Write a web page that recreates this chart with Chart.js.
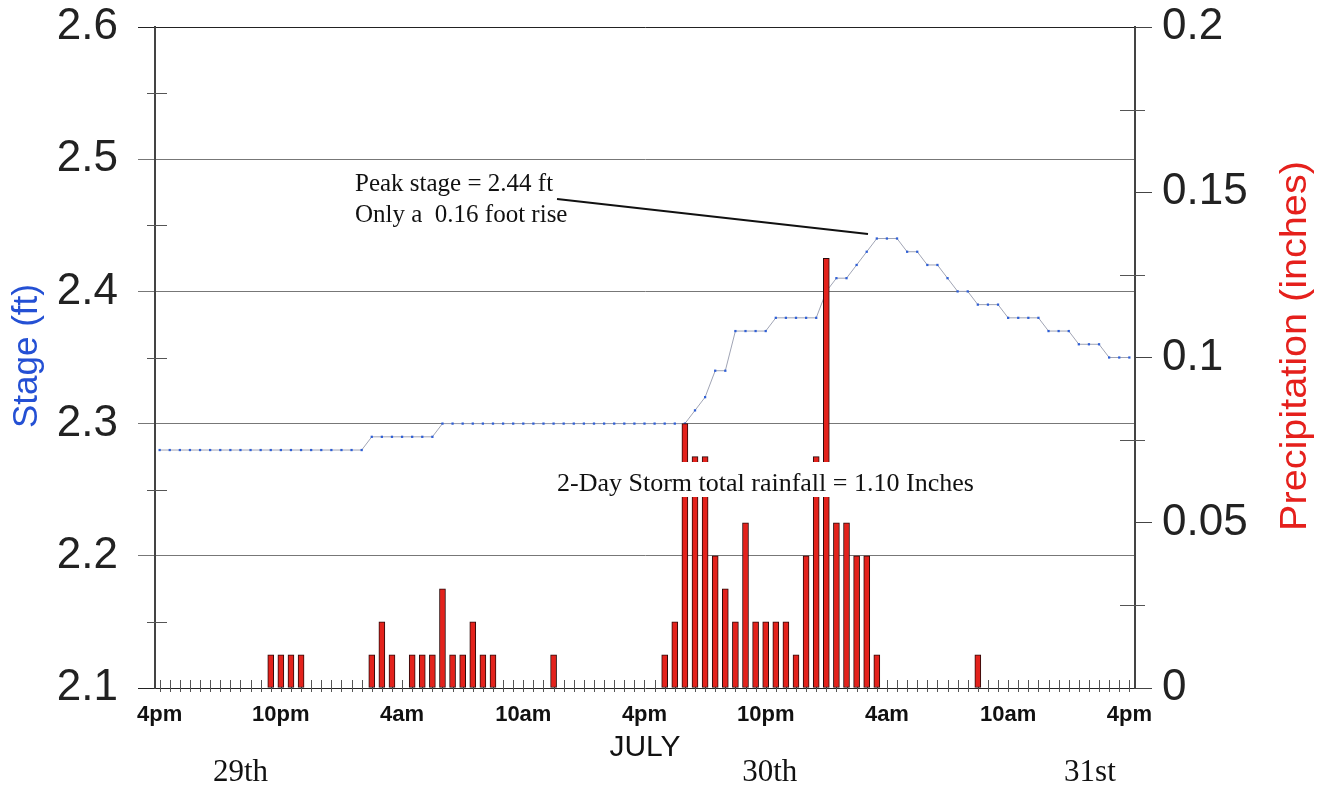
<!DOCTYPE html>
<html>
<head>
<meta charset="utf-8">
<script src="https://cdn.jsdelivr.net/npm/chart.js@4.4.1/dist/chart.umd.min.js"></script>
<style>
  html, body { margin: 0; padding: 0; background: #fff; }
</style>
</head>
<body>
<canvas id="stageChart" width="1326" height="787"></canvas>
<script>
const tickLabels = ['4pm', '10pm', '4am', '10am', '4pm', '10pm', '4am', '10am', '4pm'];
const tickSlots = [0, 12, 24, 36, 48, 60, 72, 84, 96];
const dayLabels = ['29th', '30th', '31st'];

// stage (ft), one reading every half hour from 4pm on the 29th
const stage = [
  2.28, 2.28, 2.28, 2.28, 2.28, 2.28, 2.28, 2.28, 2.28, 2.28, 2.28, 2.28,
  2.28, 2.28, 2.28, 2.28, 2.28, 2.28, 2.28, 2.28, 2.28, 2.29, 2.29, 2.29,
  2.29, 2.29, 2.29, 2.29, 2.30, 2.30, 2.30, 2.30, 2.30, 2.30, 2.30, 2.30,
  2.30, 2.30, 2.30, 2.30, 2.30, 2.30, 2.30, 2.30, 2.30, 2.30, 2.30, 2.30,
  2.30, 2.30, 2.30, 2.30, 2.30, 2.31, 2.32, 2.34, 2.34, 2.37, 2.37, 2.37,
  2.37, 2.38, 2.38, 2.38, 2.38, 2.38, 2.40, 2.41, 2.41, 2.42, 2.43, 2.44,
  2.44, 2.44, 2.43, 2.43, 2.42, 2.42, 2.41, 2.40, 2.40, 2.39, 2.39, 2.39,
  2.38, 2.38, 2.38, 2.38, 2.37, 2.37, 2.37, 2.36, 2.36, 2.36, 2.35, 2.35,
  2.35
];

// precipitation (inches) per half hour, same slots
const precip = [
  0, 0, 0, 0, 0, 0, 0, 0, 0, 0, 0, 0.01,
  0.01, 0.01, 0.01, 0, 0, 0, 0, 0, 0, 0.01, 0.02, 0.01,
  0, 0.01, 0.01, 0.01, 0.03, 0.01, 0.01, 0.02, 0.01, 0.01, 0, 0,
  0, 0, 0, 0.01, 0, 0, 0, 0, 0, 0, 0, 0,
  0, 0, 0.01, 0.02, 0.08, 0.07, 0.07, 0.04, 0.03, 0.02, 0.05, 0.02,
  0.02, 0.02, 0.02, 0.01, 0.04, 0.07, 0.13, 0.05, 0.05, 0.04, 0.04, 0.01,
  0, 0, 0, 0, 0, 0, 0, 0, 0, 0.01, 0, 0,
  0, 0, 0, 0, 0, 0, 0, 0, 0, 0, 0, 0,
  0
];

const SANS = '"Liberation Sans", Arial, sans-serif';
const SERIF = '"Liberation Serif", "Times New Roman", serif';

// keep the plot box fixed, labels may hang over its edges
function fixWidth(w) {
  return s => { s.width = w; s.paddingTop = 0; s.paddingBottom = 0; };
}

const decorations = {
  id: 'decorations',
  beforeDatasetsDraw(chart) {
    const { ctx, chartArea: a, scales: { x, y, y1 } } = chart;
    ctx.save();
    ctx.strokeStyle = '#555';
    ctx.lineWidth = 1;
    ctx.beginPath();
    // half-hour ticks across the baseline
    for (let i = 0; i < stage.length; i++) {
      const px = Math.round(x.getPixelForValue(i)) + 0.5;
      ctx.moveTo(px, a.bottom - 8);
      ctx.lineTo(px, a.bottom + 4);
    }
    // minor ticks on both y axes
    [2.15, 2.25, 2.35, 2.45, 2.55].forEach(v => {
      const py = Math.round(y.getPixelForValue(v)) + 0.5;
      ctx.moveTo(a.left - 8, py);
      ctx.lineTo(a.left + 12, py);
    });
    [0.025, 0.075, 0.125, 0.175].forEach(v => {
      const py = Math.round(y1.getPixelForValue(v)) + 0.5;
      ctx.moveTo(a.right - 15, py);
      ctx.lineTo(a.right + 10, py);
    });
    ctx.stroke();
    ctx.restore();
  },
  afterDatasetsDraw(chart) {
    const { ctx, scales: { x } } = chart;
    ctx.save();
    ctx.fillStyle = '#111';
    ctx.font = '25px ' + SERIF;
    ctx.textBaseline = 'alphabetic';
    ctx.fillText('Peak stage = 2.44 ft', 355, 191);
    ctx.fillText('Only a  0.16 foot rise', 355, 222);

    ctx.strokeStyle = '#111';
    ctx.lineWidth = 1.8;
    ctx.beginPath();
    ctx.moveTo(557, 199);
    ctx.lineTo(868, 234);
    ctx.stroke();

    const storm = '2-Day Storm total rainfall = 1.10 Inches';
    ctx.font = '26px ' + SERIF;
    const w = ctx.measureText(storm).width;
    ctx.fillStyle = '#fff';
    ctx.fillRect(552, 462, w + 10, 35);
    ctx.fillStyle = '#111';
    ctx.fillText(storm, 557, 491);

    // day names under the time labels
    ctx.font = '31px ' + SERIF;
    ctx.textAlign = 'center';
    [8, 60.4, 92.1].forEach((slot, i) => {
      ctx.fillText(dayLabels[i], x.getPixelForValue(slot), 781);
    });

    // axis titles, both reading bottom to top
    ctx.textBaseline = 'middle';
    ctx.translate(27, 356);
    ctx.rotate(-Math.PI / 2);
    ctx.font = '35px ' + SANS;
    ctx.fillStyle = '#2450d4';
    ctx.fillText('Stage (ft)', 0, 0);
    ctx.setTransform(1, 0, 0, 1, 0, 0);
    ctx.translate(1296, 346);
    ctx.rotate(-Math.PI / 2);
    ctx.scale(1.1, 1);
    ctx.font = '36px ' + SANS;
    ctx.fillStyle = '#e5201c';
    ctx.fillText('Precipitation (inches)', 0, 0);
    ctx.restore();
  }
};

const config = {
  data: {
    datasets: [
      {
        type: 'bar',
        label: 'Precipitation',
        data: precip.map((v, i) => ({ x: i, y: v })).filter(p => p.y > 0),
        yAxisID: 'y1',
        backgroundColor: '#e3221c',
        borderColor: '#2a0a0a',
        borderWidth: 1,
        borderSkipped: false,
        barThickness: 6,
        order: 1
      },
      {
        type: 'line',
        label: 'Stage',
        data: stage.map((v, i) => ({ x: i, y: v })),
        yAxisID: 'y',
        borderColor: '#a0a4b4',
        borderWidth: 1,
        pointStyle: 'rect',
        pointRadius: 1.6,
        pointBorderWidth: 0,
        pointBackgroundColor: '#2f5fd6',
        tension: 0,
        order: 2
      }
    ]
  },
  options: {
    responsive: false,
    animation: false,
    layout: { padding: { top: 27, left: 0, right: 0, bottom: 0 } },
    plugins: {
      legend: { display: false },
      tooltip: { enabled: false }
    },
    scales: {
      x: {
        type: 'linear',
        offset: false,
        min: -0.46,
        max: 96.56,
        afterFit: s => { s.height = 99; },
        afterBuildTicks: s => { s.ticks = tickSlots.map(v => ({ value: v })); },
        grid: { display: false, drawTicks: false },
        border: { display: false },
        ticks: {
          autoSkip: false,
          maxRotation: 0,
          padding: 14,
          color: '#111',
          font: { family: SANS, size: 22, weight: 'bold' },
          callback: (v, i) => tickLabels[i]
        },
        title: {
          display: true,
          text: 'JULY',
          color: '#111',
          font: { family: SANS, size: 30 },
          padding: { top: 0, bottom: 21 }
        }
      },
      y: {
        position: 'left',
        min: 2.1,
        max: 2.6,
        afterFit: fixWidth(155),
        ticks: {
          stepSize: 0.1,
          padding: 20,
          color: '#222',
          font: { family: SANS, size: 44, lineHeight: 1 },
          callback: v => v.toFixed(1)
        },
        grid: {
          color: c => (c.tick.value > 2.59 || c.tick.value < 2.11) ? '#222' : '#777',
          lineWidth: 1,
          tickLength: 17
        },
        border: { display: true, color: '#444', width: 2 }
      },
      y1: {
        position: 'right',
        min: 0,
        max: 0.2,
        afterFit: fixWidth(191),
        ticks: {
          stepSize: 0.05,
          padding: 10,
          color: '#222',
          font: { family: SANS, size: 44, lineHeight: 1 },
          callback: v => String(Math.round(v * 100) / 100)
        },
        grid: { drawOnChartArea: false, color: '#444', tickLength: 17 },
        border: { display: true, color: '#444', width: 2 }
      }
    }
  },
  plugins: [decorations]
};

new Chart(document.getElementById('stageChart'), config);
</script>
</body>
</html>
